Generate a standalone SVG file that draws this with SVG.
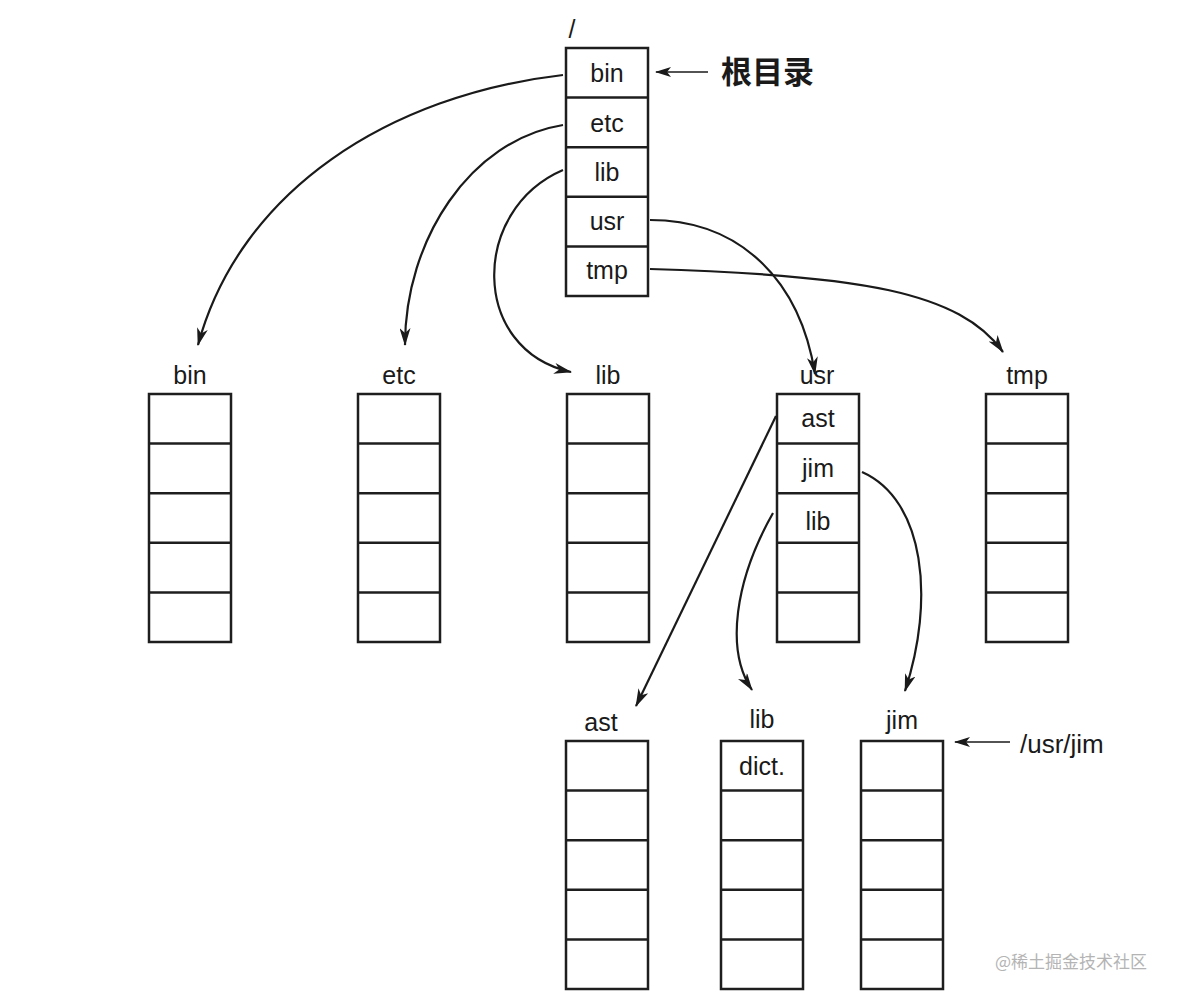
<svg xmlns="http://www.w3.org/2000/svg" width="1182" height="998" viewBox="0 0 1182 998">
<defs>
<style>
.box{fill:#fff;stroke:#1e1e1e;stroke-width:2.5}
.div{stroke:#1e1e1e;stroke-width:2.5}
.t{font-family:"Liberation Sans",Arial,sans-serif;font-size:25px;fill:#1a1a1a;text-anchor:middle}
.c{fill:none;stroke:#1a1a1a;stroke-width:2.2}
.thin{fill:none;stroke:#1a1a1a;stroke-width:1.3}
</style>
<marker id="ah" viewBox="0 0 18 11" refX="17" refY="5.5" markerWidth="18" markerHeight="11" markerUnits="userSpaceOnUse" orient="auto">
<path d="M0,0 L18,5.5 L0,11 L5,5.5 Z" fill="#1a1a1a"/>
</marker>
<marker id="ahs" viewBox="0 0 16 10" refX="15" refY="5" markerWidth="16" markerHeight="10" markerUnits="userSpaceOnUse" orient="auto">
<path d="M0,0 L16,5 L0,10 L4,5 Z" fill="#1a1a1a"/>
</marker>
<g id="cells5">
<rect class="box" x="0" y="0" width="82" height="248"/>
<line class="div" x1="0" y1="49.6" x2="82" y2="49.6"/>
<line class="div" x1="0" y1="99.2" x2="82" y2="99.2"/>
<line class="div" x1="0" y1="148.8" x2="82" y2="148.8"/>
<line class="div" x1="0" y1="198.4" x2="82" y2="198.4"/>
</g>
</defs>
<rect width="1182" height="998" fill="#fff"/>

<g id="root">
<text class="t" x="572" y="38">/</text>
<use href="#cells5" x="566" y="48"/>
<text class="t" x="607" y="82">bin</text>
<text class="t" x="607" y="132">etc</text>
<text class="t" x="607" y="181">lib</text>
<text class="t" x="607" y="230">usr</text>
<text class="t" x="607" y="279">tmp</text>
</g>
<g id="rootlabel">
<text x="721" y="83" font-family="'Noto Sans CJK SC',sans-serif" font-weight="bold" font-size="31" fill="#1a1a1a">根目录</text>
</g>

<g id="bin">
<text class="t" x="190" y="384">bin</text>
<use href="#cells5" x="149" y="394"/>
</g>
<g id="etc">
<text class="t" x="399" y="384">etc</text>
<use href="#cells5" x="358" y="394"/>
</g>
<g id="lib">
<text class="t" x="608" y="384">lib</text>
<use href="#cells5" x="567" y="394"/>
</g>
<g id="usr">
<text class="t" x="817" y="384">usr</text>
<use href="#cells5" x="777" y="394"/>
<text class="t" x="818" y="427">ast</text>
<text class="t" x="818" y="477">jim</text>
<text class="t" x="818" y="530">lib</text>
</g>
<g id="tmp">
<text class="t" x="1027" y="384">tmp</text>
<use href="#cells5" x="986" y="394"/>
</g>
<g id="ast">
<text class="t" x="601" y="731">ast</text>
<use href="#cells5" x="566" y="741"/>
</g>
<g id="usrlib">
<text class="t" x="762" y="728">lib</text>
<use href="#cells5" x="721" y="741"/>
<text class="t" x="762" y="775">dict.</text>
</g>
<g id="jim">
<text class="t" x="902" y="729">jim</text>
<use href="#cells5" x="861" y="741"/>
</g>
<g id="jimlabel">
<text x="1020" y="753" font-family="'Liberation Sans',Arial,sans-serif" font-size="26" fill="#1a1a1a">/usr/jim</text>
</g>

<g id="connectors">
<path class="thin" d="M708,72 L656,72" marker-end="url(#ahs)"/>
<path class="thin" d="M1010,742 L955,742" marker-end="url(#ahs)"/>
<path class="c" d="M563,75 C390,95 240,190 198,345" marker-end="url(#ah)"/>
<path class="c" d="M563,125 C470,140 405,240 405,345" marker-end="url(#ah)"/>
<path class="c" d="M563,170 C470,210 470,350 571,372" marker-end="url(#ah)"/>
<path class="c" d="M650,220 C740,220 800,280 815,374" marker-end="url(#ah)"/>
<path class="c" d="M650,269 C860,275 960,292 1003,352" marker-end="url(#ah)"/>
<path class="c" d="M776,416 L636,706" marker-end="url(#ah)"/>
<path class="c" d="M773,513 C735,580 725,650 752,690" marker-end="url(#ah)"/>
<path class="c" d="M862,472 C925,500 935,600 905,691" marker-end="url(#ah)"/>
</g>

<text x="995" y="968" font-family="'Noto Sans CJK SC',sans-serif" font-size="17" fill="#b4b4b4">@稀土掘金技术社区</text>
</svg>
